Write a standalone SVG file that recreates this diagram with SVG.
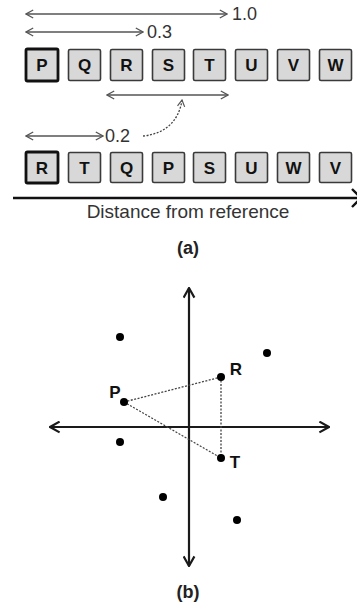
<svg xmlns="http://www.w3.org/2000/svg" width="357" height="605" viewBox="0 0 357 605">
<style>
.box{fill:#d8d8d8;stroke:#3a3a3a;stroke-width:1.6}
.ref{stroke:#111;stroke-width:2.8}
.bl{font-family:"Liberation Sans",Arial,sans-serif;font-weight:bold;font-size:17px;fill:#111;text-anchor:middle}
.num{font-family:"Liberation Sans",Arial,sans-serif;font-size:18px;fill:#333}
.cap{font-family:"Liberation Sans",Arial,sans-serif;font-size:18px;font-weight:bold;fill:#222;text-anchor:middle}
.rng{stroke:#555;stroke-width:1.3;fill:none}
.ax{stroke:#1a1a1a;stroke-width:2.2;fill:none}
.dot{fill:#000}
.dash{stroke:#444;stroke-width:1.3;stroke-dasharray:2 1.5;fill:none}
</style>
<defs>
<marker id="oa" viewBox="0 0 10 10" refX="9" refY="5" markerWidth="9" markerHeight="10" markerUnits="userSpaceOnUse" orient="auto-start-reverse">
<path d="M1,0.5 L9,5 L1,9.5" fill="none" stroke="#555" stroke-width="1.4"/>
</marker>
<marker id="ob" viewBox="0 0 10 10" refX="9" refY="5" markerWidth="12" markerHeight="13" markerUnits="userSpaceOnUse" orient="auto-start-reverse">
<path d="M1,0.5 L9,5 L1,9.5" fill="none" stroke="#1a1a1a" stroke-width="1.8"/>
</marker>
<marker id="oc" viewBox="0 0 10 10" refX="9" refY="5" markerWidth="8" markerHeight="9" markerUnits="userSpaceOnUse" orient="auto">
<path d="M1,0.5 L9,5 L1,9.5" fill="none" stroke="#555" stroke-width="1.5"/>
</marker>
</defs>

<g id="connectors">
<line class="rng" x1="26" y1="14" x2="227" y2="14" marker-start="url(#oa)" marker-end="url(#oa)"/>
<line class="rng" x1="26" y1="32" x2="143" y2="32" marker-start="url(#oa)" marker-end="url(#oa)"/>
<line class="rng" x1="107" y1="95" x2="228" y2="95" marker-start="url(#oa)" marker-end="url(#oa)"/>
<line class="rng" x1="26" y1="136" x2="103" y2="136" marker-start="url(#oa)" marker-end="url(#oa)"/>
<path class="dash" d="M143,136 C165,134 179,121 182,100" stroke="#555" marker-end="url(#oc)"/>
<line x1="13" y1="198" x2="357" y2="198" stroke="#111" stroke-width="2.6"/>
<polyline points="352,189 361,198 352,207" fill="none" stroke="#111" stroke-width="2.4"/>
<line class="ax" x1="189" y1="288" x2="189" y2="566" marker-start="url(#ob)" marker-end="url(#ob)"/>
<line class="ax" x1="50" y1="427" x2="329" y2="427" marker-start="url(#ob)" marker-end="url(#ob)"/>
<line class="dash" x1="124" y1="402" x2="221" y2="377"/>
<line class="dash" x1="124" y1="402" x2="221" y2="458"/>
<line class="dash" x1="221" y1="377" x2="221" y2="458"/>
</g>

<g id="labels-a">
<text class="num" x="232" y="20">1.0</text>
<text class="num" x="147" y="38">0.3</text>
<text class="num" x="105" y="142">0.2</text>
<text x="188" y="218" font-family="Liberation Sans,Arial,sans-serif" font-size="19" fill="#333" text-anchor="middle">Distance from reference</text>
<text class="cap" x="188" y="254">(a)</text>
</g>

<g id="row1">
<g id="r1-P"><rect class="box ref" x="26" y="49" width="32" height="32" rx="1.5"/><text class="bl" x="42" y="71">P</text></g>
<g id="r1-Q"><rect class="box" x="68.5" y="49.5" width="32" height="31" rx="1.5"/><text class="bl" x="84.5" y="71">Q</text></g>
<g id="r1-R"><rect class="box" x="110.5" y="49.5" width="32" height="31" rx="1.5"/><text class="bl" x="126.5" y="71">R</text></g>
<g id="r1-S"><rect class="box" x="152.5" y="49.5" width="32" height="31" rx="1.5"/><text class="bl" x="168.5" y="71">S</text></g>
<g id="r1-T"><rect class="box" x="193.5" y="49.5" width="32" height="31" rx="1.5"/><text class="bl" x="209.5" y="71">T</text></g>
<g id="r1-U"><rect class="box" x="235.5" y="49.5" width="32" height="31" rx="1.5"/><text class="bl" x="251.5" y="71">U</text></g>
<g id="r1-V"><rect class="box" x="277.5" y="49.5" width="32" height="31" rx="1.5"/><text class="bl" x="293.5" y="71">V</text></g>
<g id="r1-W"><rect class="box" x="319.5" y="49.5" width="32" height="31" rx="1.5"/><text class="bl" x="335.5" y="71">W</text></g>
</g>

<g id="row2">
<g id="r2-R"><rect class="box ref" x="26" y="152" width="32" height="31" rx="1.5"/><text class="bl" x="42" y="174">R</text></g>
<g id="r2-T"><rect class="box" x="68.5" y="152.5" width="32" height="30" rx="1.5"/><text class="bl" x="84.5" y="174">T</text></g>
<g id="r2-Q"><rect class="box" x="110.5" y="152.5" width="32" height="30" rx="1.5"/><text class="bl" x="126.5" y="174">Q</text></g>
<g id="r2-P"><rect class="box" x="152.5" y="152.5" width="32" height="30" rx="1.5"/><text class="bl" x="168.5" y="174">P</text></g>
<g id="r2-S"><rect class="box" x="193.5" y="152.5" width="32" height="30" rx="1.5"/><text class="bl" x="209.5" y="174">S</text></g>
<g id="r2-U"><rect class="box" x="235.5" y="152.5" width="32" height="30" rx="1.5"/><text class="bl" x="251.5" y="174">U</text></g>
<g id="r2-W"><rect class="box" x="277.5" y="152.5" width="32" height="30" rx="1.5"/><text class="bl" x="293.5" y="174">W</text></g>
<g id="r2-V"><rect class="box" x="319.5" y="152.5" width="32" height="30" rx="1.5"/><text class="bl" x="335.5" y="174">V</text></g>
</g>

<g id="points-b">
<circle class="dot" cx="120" cy="337" r="4"/>
<circle class="dot" cx="267" cy="353" r="4"/>
<g id="pt-R"><circle class="dot" cx="221" cy="377" r="4"/><text class="bl" x="236" y="375">R</text></g>
<g id="pt-P"><circle class="dot" cx="124" cy="402" r="4"/><text class="bl" x="115" y="398">P</text></g>
<circle class="dot" cx="120" cy="442" r="4"/>
<g id="pt-T"><circle class="dot" cx="221" cy="458" r="4"/><text class="bl" x="235" y="468">T</text></g>
<circle class="dot" cx="163" cy="497" r="4"/>
<circle class="dot" cx="237" cy="520" r="4"/>
<text class="cap" x="188" y="598">(b)</text>
</g>
</svg>
